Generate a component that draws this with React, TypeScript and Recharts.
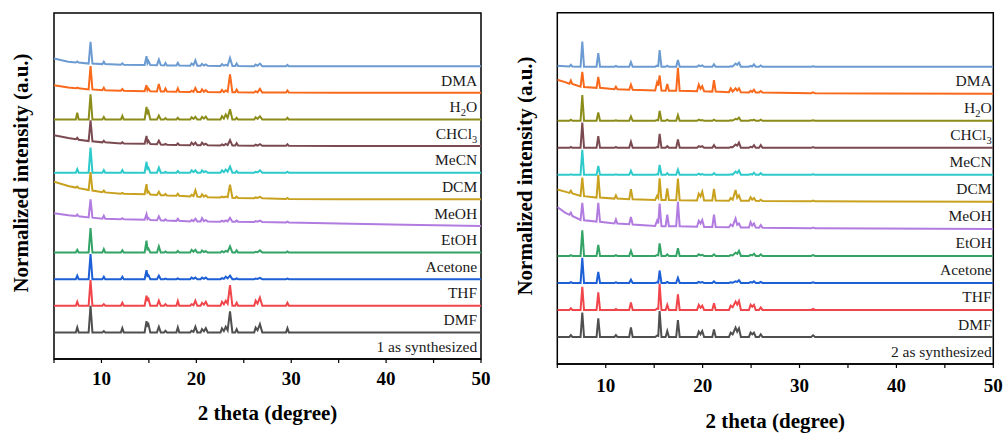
import { LineChart, Line, XAxis, YAxis, ReferenceArea, ReferenceDot } from "recharts";

const FONT = '"Liberation Serif", "Times New Roman", "DejaVu Serif", serif';

// ---------- panel 1 (compound 1) ----------
const theta1 = [
  5, 6.5, 7.3, 7.45, 7.6, 8.65, 8.85, 9.05, 10.1, 10.25, 10.4, 12.05, 12.2, 12.35,
  14.55, 14.75, 14.85, 14.95, 15.15, 15.85, 16.05, 16.25, 16.6, 16.75, 16.9, 17.9, 18.05, 18.2,
  19.35, 19.5, 19.7, 19.9, 20.1, 20.45, 20.6, 20.8, 21.0, 21.2,
  22.55, 22.7, 22.9, 23.1, 23.3, 23.55, 23.8, 24.1, 24.25, 24.4,
  26.1, 26.25, 26.45, 26.7, 26.95, 29.45, 29.6, 29.75, 35, 42, 50,
];
const dma1 = [0.29, 0.17, 0.14, 0.18, 0.14, 0.1, 0.92, 0.1, 0.08, 0.17, 0.08, 0.06, 0.11, 0.06, 0.05, 0.38, 0.12, 0.2, 0.05, 0.04, 0.25, 0.04, 0.03, 0.12, 0.03, 0.03, 0.13, 0.03, 0.02, 0.1, 0.04, 0.22, 0.02, 0.02, 0.09, 0.03, 0.07, 0.02, 0.01, 0.08, 0.02, 0.05, 0.02, 0.31, 0.01, 0.01, 0.1, 0.01, 0, 0.06, 0.02, 0.1, 0, 0, 0.05, 0, 0, 0, 0];
const h2o1 = [0.29, 0.2, 0.17, 0.2, 0.17, 0.13, 1.01, 0.13, 0.1, 0.19, 0.1, 0.08, 0.14, 0.08, 0.06, 0.29, 0.1, 0.16, 0.06, 0.05, 0.33, 0.05, 0.05, 0.16, 0.05, 0.04, 0.17, 0.04, 0.03, 0.08, 0.04, 0.18, 0.03, 0.03, 0.13, 0.04, 0.1, 0.03, 0.02, 0.11, 0.03, 0.09, 0.04, 0.69, 0.02, 0.02, 0.12, 0.02, 0.01, 0.06, 0.02, 0.15, 0.01, 0.01, 0.09, 0.01, 0, 0, 0];
const chcl1 = [0, 0, 0, 0.25, 0, 0, 0.94, 0, 0, 0.09, 0, 0, 0.13, 0, 0, 0.47, 0.25, 0.31, 0, 0, 0.15, 0, 0, 0.05, 0, 0, 0.06, 0, 0, 0.08, 0.02, 0.1, 0, 0, 0.1, 0.03, 0.11, 0, 0, 0.12, 0.03, 0.19, 0.06, 0.38, 0, 0, 0.06, 0, 0, 0.08, 0.02, 0.12, 0, 0, 0.06, 0, 0, 0, 0];
const mecn1 = [0.41, 0.3, 0.26, 0.31, 0.24, 0.19, 0.97, 0.18, 0.14, 0.2, 0.14, 0.1, 0.14, 0.1, 0.09, 0.38, 0.14, 0.2, 0.08, 0.07, 0.2, 0.06, 0.05, 0.08, 0.05, 0.04, 0.1, 0.04, 0.03, 0.13, 0.05, 0.13, 0.03, 0.03, 0.13, 0.05, 0.09, 0.03, 0.02, 0.06, 0.03, 0.08, 0.04, 0.22, 0.02, 0.02, 0.11, 0.02, 0.01, 0.05, 0.02, 0.07, 0.01, 0.01, 0.07, 0.01, 0, 0, 0];
const dcm1 = [0, 0, 0, 0.13, 0, 0, 0.94, 0, 0, 0.1, 0, 0, 0.1, 0, 0, 0.41, 0.15, 0.19, 0, 0, 0.19, 0, 0, 0.03, 0, 0, 0.06, 0, 0, 0.09, 0.02, 0.09, 0, 0, 0.09, 0.02, 0.06, 0, 0, 0.09, 0.02, 0.12, 0.04, 0.23, 0, 0, 0.06, 0, 0, 0.03, 0.01, 0.09, 0, 0, 0.04, 0, 0, 0, 0];
const meoh1 = [0.66, 0.5, 0.44, 0.48, 0.42, 0.35, 1.02, 0.33, 0.27, 0.33, 0.26, 0.21, 0.24, 0.21, 0.19, 0.57, 0.26, 0.3, 0.18, 0.16, 0.28, 0.15, 0.15, 0.2, 0.14, 0.13, 0.21, 0.13, 0.11, 0.17, 0.12, 0.34, 0.1, 0.09, 0.19, 0.1, 0.15, 0.08, 0.07, 0.1, 0.07, 0.1, 0.08, 0.55, 0.06, 0.05, 0.1, 0.05, 0.04, 0.07, 0.05, 0.09, 0.04, 0.01, 0.05, 0.01, 0, 0, 0];
const etoh1 = [0.48, 0.4, 0.37, 0.43, 0.36, 0.32, 1.0, 0.31, 0.27, 0.38, 0.27, 0.25, 0.29, 0.25, 0.23, 0.44, 0.26, 0.3, 0.22, 0.21, 0.36, 0.21, 0.2, 0.25, 0.2, 0.19, 0.27, 0.19, 0.17, 0.22, 0.18, 0.27, 0.17, 0.17, 0.29, 0.18, 0.22, 0.17, 0.16, 0.2, 0.16, 0.21, 0.17, 0.3, 0.16, 0.16, 0.2, 0.16, 0.15, 0.18, 0.16, 0.2, 0.15, 0.13, 0.16, 0.13, 0.09, 0.04, 0];
const acetone1 = [0, 0, 0, 0.1, 0, 0, 0.92, 0, 0, 0.13, 0, 0, 0.08, 0, 0, 0.45, 0.12, 0.15, 0, 0, 0.23, 0, 0, 0.04, 0, 0, 0.06, 0, 0, 0.1, 0.03, 0.1, 0, 0, 0.08, 0.02, 0.05, 0, 0, 0.05, 0.01, 0.06, 0.03, 0.23, 0, 0, 0.08, 0, 0, 0.03, 0.01, 0.08, 0, 0, 0.04, 0, 0, 0, 0];
const thf1 = [0, 0, 0, 0.13, 0, 0, 0.94, 0, 0, 0.09, 0, 0, 0.09, 0, 0, 0.34, 0.12, 0.15, 0, 0, 0.13, 0, 0, 0.02, 0, 0, 0.03, 0, 0, 0.06, 0.01, 0.06, 0, 0, 0.06, 0.01, 0.06, 0, 0, 0.04, 0.01, 0.09, 0.03, 0.13, 0, 0, 0.03, 0, 0, 0.02, 0.01, 0.05, 0, 0, 0.02, 0, 0, 0, 0];
const dmf1 = [0, 0, 0, 0.15, 0, 0, 0.97, 0, 0, 0.06, 0, 0, 0.11, 0, 0, 0.38, 0.22, 0.26, 0, 0, 0.19, 0, 0, 0.06, 0, 0, 0.18, 0, 0, 0.06, 0.02, 0.19, 0, 0, 0.11, 0.04, 0.15, 0, 0, 0.15, 0.05, 0.19, 0.08, 0.78, 0, 0, 0.11, 0, 0, 0.19, 0.08, 0.31, 0, 0, 0.11, 0, 0, 0, 0];
const synth1 = [0, 0, 0, 0.19, 0, 0, 1.0, 0, 0, 0.05, 0, 0, 0.16, 0, 0, 0.42, 0.26, 0.31, 0, 0, 0.21, 0, 0, 0.06, 0, 0, 0.19, 0, 0, 0.06, 0.02, 0.21, 0, 0, 0.12, 0.04, 0.16, 0, 0, 0.15, 0.05, 0.21, 0.08, 0.79, 0, 0, 0.12, 0, 0, 0.18, 0.08, 0.31, 0, 0, 0.16, 0, 0, 0, 0];

// ---------- panel 2 (compound 2) ----------
const theta2 = [
  5, 5.8, 6.25, 6.4, 6.55, 7.4, 7.58, 7.76, 9.05, 9.23, 9.41, 10.9, 11.05, 11.2, 12.42, 12.6, 12.78,
  15.1, 15.3, 15.42, 15.56, 15.75, 16.18, 16.35, 16.52, 17.27, 17.45, 17.63,
  19.42, 19.6, 19.78, 19.96, 20.15, 21.0, 21.17, 21.35,
  22.72, 22.9, 23.1, 23.4, 23.57, 23.75, 23.95, 24.78, 24.95, 25.12, 25.3, 25.48,
  25.82, 26.0, 26.18, 31.2, 31.4, 31.6, 38, 50,
];
const dma2 = [0.04, 0.02, 0.01, 0.07, 0.01, 0, 0.93, 0, 0, 0.5, 0, 0, 0.03, 0, 0, 0.17, 0, 0, 0.04, 0.03, 0.62, 0, 0, 0.04, 0, 0, 0.25, 0, 0, 0.05, 0.02, 0.05, 0, 0, 0.09, 0, 0, 0.02, 0.01, 0.12, 0.07, 0.15, 0, 0, 0.03, 0.01, 0.09, 0, 0, 0.05, 0, 0, 0.02, 0, 0, 0];
const h2o2 = [0.52, 0.43, 0.37, 0.49, 0.36, 0.26, 0.81, 0.25, 0.22, 0.62, 0.22, 0.17, 0.26, 0.17, 0.15, 0.34, 0.15, 0.12, 0.42, 0.3, 0.68, 0.12, 0.11, 0.36, 0.11, 0.11, 0.96, 0.11, 0.09, 0.34, 0.18, 0.28, 0.09, 0.08, 0.5, 0.08, 0.06, 0.2, 0.08, 0.2, 0.12, 0.2, 0.06, 0.05, 0.11, 0.07, 0.15, 0.05, 0.05, 0.1, 0.05, 0.02, 0.05, 0.02, 0.01, 0];
const chcl2 = [0, 0, 0, 0.04, 0, 0, 0.95, 0, 0, 0.31, 0, 0, 0.02, 0, 0, 0.16, 0, 0, 0.03, 0.02, 0.37, 0, 0, 0.04, 0, 0, 0.21, 0, 0, 0.04, 0.01, 0.03, 0, 0, 0.04, 0, 0, 0.02, 0.01, 0.07, 0.05, 0.12, 0, 0, 0.03, 0.01, 0.04, 0, 0, 0.04, 0, 0, 0.02, 0, 0, 0];
const mecn2 = [0, 0, 0, 0.03, 0, 0, 0.93, 0, 0, 0.43, 0, 0, 0.03, 0, 0, 0.22, 0, 0, 0.03, 0.02, 0.52, 0, 0, 0.06, 0, 0, 0.31, 0, 0, 0.06, 0.03, 0.06, 0, 0, 0.1, 0, 0, 0.03, 0.02, 0.12, 0.08, 0.19, 0, 0, 0.04, 0.02, 0.1, 0, 0, 0.1, 0, 0, 0.03, 0, 0, 0];
const dcm2 = [0, 0, 0, 0.02, 0, 0, 0.93, 0, 0, 0.33, 0, 0, 0.02, 0, 0, 0.15, 0, 0, 0.02, 0.01, 0.37, 0, 0, 0.06, 0, 0, 0.19, 0, 0, 0.04, 0.01, 0.03, 0, 0, 0.06, 0, 0, 0.02, 0.01, 0.12, 0.07, 0.16, 0, 0, 0.03, 0.01, 0.08, 0, 0, 0.06, 0, 0, 0.02, 0, 0, 0];
const meoh2 = [0.46, 0.38, 0.33, 0.41, 0.31, 0.22, 0.9, 0.21, 0.16, 0.99, 0.16, 0.12, 0.24, 0.12, 0.1, 0.47, 0.1, 0.07, 0.22, 0.15, 0.87, 0.07, 0.07, 0.5, 0.07, 0.06, 0.86, 0.06, 0.05, 0.3, 0.2, 0.38, 0.05, 0.05, 0.48, 0.05, 0.04, 0.14, 0.08, 0.44, 0.15, 0.24, 0.04, 0.04, 0.17, 0.08, 0.14, 0.04, 0.03, 0.08, 0.03, 0.02, 0.05, 0.02, 0.01, 0];
const etoh2 = [0.81, 0.6, 0.52, 0.6, 0.48, 0.33, 0.96, 0.32, 0.27, 0.96, 0.26, 0.2, 0.35, 0.2, 0.17, 0.44, 0.16, 0.11, 0.31, 0.2, 0.94, 0.1, 0.1, 0.53, 0.1, 0.1, 1.0, 0.1, 0.08, 0.3, 0.2, 0.33, 0.07, 0.07, 0.53, 0.07, 0.06, 0.16, 0.1, 0.38, 0.15, 0.2, 0.05, 0.05, 0.25, 0.12, 0.2, 0.05, 0.04, 0.14, 0.04, 0.02, 0.05, 0.02, 0.01, 0];
const acetone2 = [0, 0, 0, 0.03, 0, 0, 0.95, 0, 0, 0.41, 0, 0, 0.03, 0, 0, 0.19, 0, 0, 0.03, 0.02, 0.46, 0, 0, 0.06, 0, 0, 0.28, 0, 0, 0.06, 0.02, 0.04, 0, 0, 0.06, 0, 0, 0.03, 0.02, 0.12, 0.08, 0.19, 0, 0, 0.04, 0.02, 0.08, 0, 0, 0.06, 0, 0, 0.03, 0, 0, 0];
const thf2 = [0, 0, 0, 0.03, 0, 0, 0.93, 0, 0, 0.41, 0, 0, 0.02, 0, 0, 0.12, 0, 0, 0.02, 0.01, 0.46, 0, 0, 0.04, 0, 0, 0.19, 0, 0, 0.04, 0.01, 0.03, 0, 0, 0.06, 0, 0, 0.02, 0.01, 0.06, 0.04, 0.1, 0, 0, 0.03, 0.01, 0.06, 0, 0, 0.04, 0, 0, 0.02, 0, 0, 0];
const dmf2 = [0, 0, 0, 0.06, 0, 0, 0.86, 0, 0, 0.65, 0, 0, 0.04, 0, 0, 0.28, 0, 0, 0.05, 0.04, 0.97, 0, 0, 0.19, 0, 0, 0.58, 0, 0, 0.19, 0.08, 0.16, 0, 0, 0.25, 0, 0, 0.16, 0.1, 0.31, 0.2, 0.33, 0, 0, 0.19, 0.12, 0.19, 0, 0, 0.09, 0, 0, 0.04, 0, 0, 0];
const synth2 = [0, 0, 0, 0.07, 0, 0, 0.9, 0, 0, 0.69, 0, 0, 0.07, 0, 0, 0.35, 0, 0, 0.05, 0.04, 0.96, 0, 0, 0.22, 0, 0, 0.62, 0, 0, 0.2, 0.1, 0.22, 0, 0, 0.28, 0, 0, 0.16, 0.1, 0.35, 0.2, 0.32, 0, 0, 0.16, 0.1, 0.16, 0, 0, 0.1, 0, 0, 0.06, 0, 0, 0];

const keys = ["DMA", "H2O", "CHCl3", "MeCN", "DCM", "MeOH", "EtOH", "Acetone", "THF", "DMF", "asSynth"];
const colors = ["#6B9BD1", "#F8691C", "#8C8C1A", "#7A4A50", "#2ECACB", "#C8A11E", "#B17BE0", "#33A366", "#1D5FD5", "#F0454A", "#4F4F4F"];
const labels1 = ["DMA", "H_2O", "CHCl_3", "MeCN", "DCM", "MeOH", "EtOH", "Acetone", "THF", "DMF", "1 as synthesized"];
const labels2 = ["DMA", "H_2O", "CHCl_3", "MeCN", "DCM", "MeOH", "EtOH", "Acetone", "THF", "DMF", "2 as synthesized"];
const xTicks = [5, 10, 15, 20, 25, 30, 35, 40, 45, 50];

const series1 = [dma1, h2o1, chcl1, mecn1, dcm1, meoh1, etoh1, acetone1, thf1, dmf1, synth1];
const series2 = [dma2, h2o2, chcl2, mecn2, dcm2, meoh2, etoh2, acetone2, thf2, dmf2, synth2];

// stack traces: top one gets the largest offset
function buildRows(theta: number[], series: number[][]) {
  return theta.map((t, i) => {
    const row: Record<string, number> = { t };
    series.forEach((s, k) => {
      row[keys[k]] = s[i] + (series.length - 1 - k);
    });
    return row;
  });
}

const sampleLabel = (text: string) => (p: any) => {
  const [main, sub] = text.split("_");
  return (
    <text x={p.cx} y={p.cy} dy={5.5} textAnchor="end" fontFamily={FONT} fontSize={15.5} fill="#1a1a1a">
      {main}
      {sub !== undefined && (
        <>
          <tspan dy={4} fontSize={10.5}>{sub[0]}</tspan>
          <tspan dy={-4}>{sub.slice(1)}</tspan>
        </>
      )}
    </text>
  );
};

function Panel(props: any) {
  const { left, width, top, plotBottom, marginLeft, marginRight, theta, series, labels, labelX, tickMargin, titleOffset, yTitleX, yTitleY } = props;
  const rows = buildRows(theta, series);
  return (
    <div style={{ position: "absolute", left, top: 0, width, height: 434 }}>
      <LineChart width={width} height={434} data={rows} margin={{ top, right: marginRight, bottom: 0, left: marginLeft }}>
        <XAxis
          dataKey="t"
          type="number"
          domain={[5, 50]}
          ticks={xTicks}
          interval={0}
          allowDataOverflow
          height={434 - plotBottom}
          tickFormatter={(v: number) => (v % 10 === 0 ? String(v) : "")}
          tick={{ fontSize: 19, fontWeight: 700, fontFamily: FONT, fill: "#000" }}
          tickSize={4}
          tickMargin={tickMargin}
          axisLine={{ stroke: "#000", strokeWidth: 1.5 }}
          tickLine={{ stroke: "#000", strokeWidth: 1.2 }}
          label={{ value: "2 theta (degree)", position: "insideBottom", offset: titleOffset, fontSize: 21, fontWeight: 700, fontFamily: FONT, fill: "#000" }}
        />
        <YAxis hide type="number" domain={[-1, 12]} allowDataOverflow />
        {series.map((_: number[], k: number) => (
          <Line key={keys[k]} type="linear" dataKey={keys[k]} stroke={colors[k]} strokeWidth={2} dot={false} isAnimationActive={false} />
        ))}
        <ReferenceArea x1={5} x2={50} y1={-1} y2={12} fill="none" stroke="#000" strokeWidth={1.5} ifOverflow="visible" />
        {labels.map((text: string, k: number) => (
          <ReferenceDot key={text} x={labelX} y={series.length - 1 - k - 0.52} r={1} ifOverflow="visible" shape={sampleLabel(text)} />
        ))}
      </LineChart>
      <div
        style={{
          position: "absolute",
          left: yTitleX,
          top: yTitleY,
          transform: "translate(-50%, -50%) rotate(-90deg)",
          whiteSpace: "nowrap",
          font: `bold 21px ${FONT}`,
          color: "#000",
        }}
      >
        Normalized intensity (a.u.)
      </div>
    </div>
  );
}

export default function App() {
  return (
    <div style={{ position: "absolute", left: 0, top: 0, width: 1006, height: 434, background: "#fff" }}>
      <Panel
        left={0} width={500} top={13} plotBottom={359} marginLeft={54} marginRight={19}
        theta={theta1} series={series1} labels={labels1} labelX={49.6}
        tickMargin={9} titleOffset={14} yTitleX={20.7} yTitleY={173}
      />
      <Panel
        left={500} width={506} top={12.7} plotBottom={364} marginLeft={57.3} marginRight={12.7}
        theta={theta2} series={series2} labels={labels2} labelX={49.83}
        tickMargin={11} titleOffset={6} yTitleX={25} yTitleY={176}
      />
    </div>
  );
}
